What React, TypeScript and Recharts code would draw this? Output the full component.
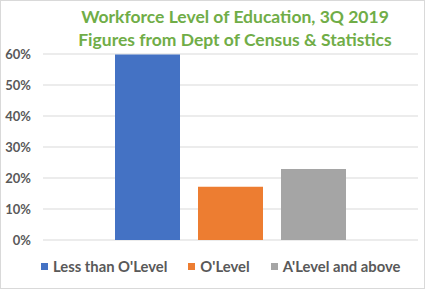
import { BarChart, Bar, XAxis, YAxis, CartesianGrid } from 'recharts';

const categories = ['3Q 2019'];
const lessThanOLevel = [59.8];
const oLevel = [17.2];
const aLevelAndAbove = [22.9];
const yTicks = [0, 10, 20, 30, 40, 50, 60];

const SERIES = [
  { key: 'less', name: "Less than O'Level", color: '#4472C4' },
  { key: 'o', name: "O'Level", color: '#ED7D31' },
  { key: 'a', name: "A'Level and above", color: '#A5A5A5' },
];

const data = categories.map((c, i) => ({
  name: c,
  less: lessThanOLevel[i],
  o: oLevel[i],
  a: aLevelAndAbove[i],
}));

const FONT = 'Lato, "Open Sans", sans-serif';

export default function App() {
  return (
    <div style={{ position: 'relative', width: 425, height: 289, boxSizing: 'border-box', border: '1px solid #d9d9d9', background: '#fff' }}>
      <style>{'body{margin:0}'}</style>
      <div style={{ position: 'absolute', left: 0, width: 468, top: 4, textAlign: 'center', fontFamily: FONT, fontWeight: 700, fontSize: 17.5, lineHeight: '23px', color: '#70AD47' }}>
        Workforce Level of Education, 3Q 2019<br />Figures from Dept of Census &amp; Statistics
      </div>
      <BarChart
        width={423}
        height={287}
        data={data}
        margin={{ top: 53, right: 6, left: 0, bottom: 48 }}
        barCategoryGap={72}
        barGap={18}
      >
        <CartesianGrid vertical={false} stroke="#d9d9d9" />
        <XAxis dataKey="name" hide />
        <YAxis
          width={42}
          domain={[0, 60]}
          ticks={yTicks}
          tickFormatter={v => `${v}%`}
          axisLine={false}
          tickLine={false}
          tickMargin={6}
          tick={{ fill: '#595959', fontSize: 13, fontWeight: 700, fontFamily: FONT }}
        />
        {SERIES.map(s => (
          <Bar key={s.key} dataKey={s.key} name={s.name} fill={s.color} isAnimationActive={false} />
        ))}
      </BarChart>
      <div style={{ position: 'absolute', left: 40, top: 256, display: 'flex', gap: 21, fontFamily: FONT, fontSize: 14.8, fontWeight: 700, color: '#595959' }}>
        {SERIES.map(s => (
          <div key={s.key} style={{ display: 'flex', alignItems: 'center' }}>
            <span style={{ width: 7, height: 7, background: s.color, marginRight: 5, display: 'inline-block' }} />
            {s.name}
          </div>
        ))}
      </div>
    </div>
  );
}
